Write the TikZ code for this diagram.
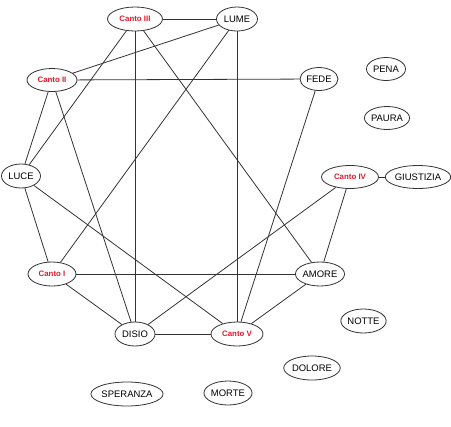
\documentclass[tikz,border=0pt]{standalone}
\usepackage{fontspec}
\setmainfont{Liberation Sans}
\usetikzlibrary{shapes.geometric}
\definecolor{cantored}{HTML}{E3192F}
\definecolor{edgegray}{HTML}{333333}
\begin{document}
\begin{tikzpicture}[x=0.75pt,y=-0.75pt,
  el/.style 2 args={ellipse,draw=edgegray,line width=0.6pt,fill=white,inner sep=0pt,
     minimum width=#1*0.75pt,minimum height=#2*0.75pt,font=\fontsize{7.1}{8}\selectfont},
  canto/.style={text=cantored,font=\fontsize{5.9}{7}\selectfont\bfseries},
  link/.style={draw=edgegray,line width=0.6pt}]
\useasboundingbox (0,0) rectangle (451,426);
% nodes
\node[el={55}{24},canto] (c3) at (135,19) {Canto III};
\node[el={41}{24}] (lume) at (237,19) {LUME};
\node[el={50}{23},canto] (c2) at (52,80) {Canto II};
\node[el={38}{23}] (fede) at (319,79) {FEDE};
\node[el={39}{23}] (pena) at (386,69) {PENA};
\node[el={42}{23}] (paura) at (387,118) {PAURA};
\node[el={57}{23},canto] (c4) at (350,177) {Canto IV};
\node[el={57}{23}] (giu) at (418,177) {GIUSTIZIA};
\node[el={39}{24}] (luce) at (21,176) {LUCE};
\node[el={48}{24},canto] (c1) at (52,274) {Canto I};
\node[el={47}{24}] (amore) at (320,274) {AMORE};
\node[el={40}{24}] (disio) at (135,334) {DISIO};
\node[el={52}{24},canto] (c5) at (237,334) {Canto V};
\node[el={41}{24}] (notte) at (363.5,321) {NOTTE};
\node[el={48}{24}] (dolore) at (312,368) {DOLORE};
\node[el={43}{24}] (morte) at (228,393) {MORTE};
\node[el={60}{24}] (speranza) at (127,394) {SPERANZA};
% edges
\path[link] (c3) -- (lume);
\path[link] (c3) -- (disio);
\path[link] (c3) -- (luce);
\path[link] (c3) -- (amore);
\path[link] (lume) -- (c2);
\path[link] (lume) -- (c1);
\path[link] (lume) -- (c5);
\path[link] (c2) -- (fede);
\path[link] (c2) -- (luce);
\path[link] (c2) -- (disio);
\path[link] (fede) -- (c5);
\path[link] (c4) -- (giu);
\path[link] (c4) -- (disio);
\path[link] (c4) -- (amore);
\path[link] (luce) -- (c1);
\path[link] (luce) -- (c5);
\path[link] (c1) -- (amore);
\path[link] (c1) -- (disio);
\path[link] (disio) -- (c5);
\path[link] (amore) -- (c5);
\end{tikzpicture}
\end{document}
